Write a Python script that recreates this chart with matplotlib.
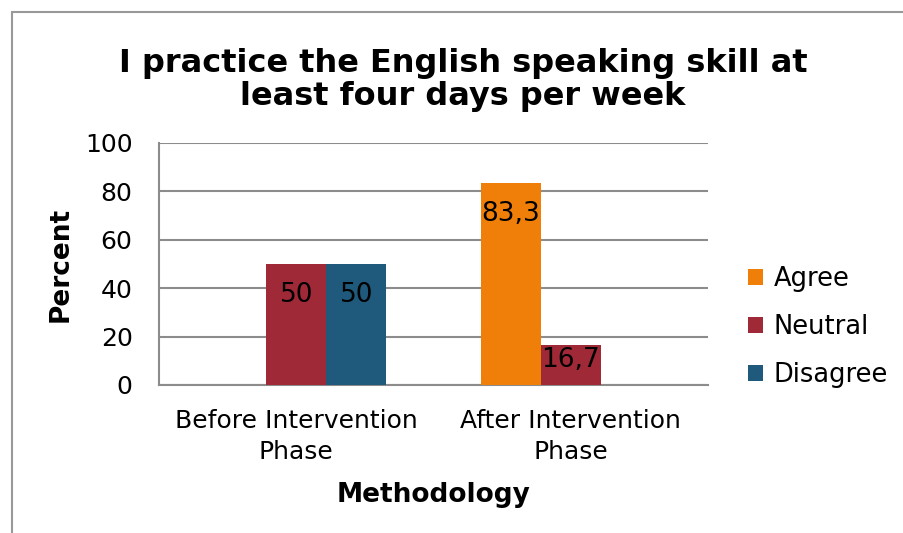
import matplotlib
matplotlib.use("Agg")
import matplotlib.pyplot as plt
from matplotlib.patches import Rectangle
import numpy as np

# data
phases = ["Before Intervention\nPhase", "After Intervention\nPhase"]
series = ["Agree", "Neutral", "Disagree"]
agree = [0, 83.3]
neutral = [50, 16.7]
disagree = [50, 0]
colors = ["#F07F09", "#9F2936", "#1F5A7D"]

plt.rcParams["font.family"] = ["DejaVu Sans"]

fig = plt.figure(figsize=(9.04, 5.33), dpi=100)
# grey chart frame, top-left corner visible
fig.patches.append(Rectangle((12 / 904, -0.1), 1.2, 1 - 12 / 533 + 0.1,
                             transform=fig.transFigure, fill=False,
                             edgecolor="#999999", linewidth=1.5))

ax = fig.add_axes([159 / 904, 1 - 385 / 533, (708 - 159) / 904, (385 - 143) / 533])

x = np.arange(len(phases))
w = 0.219
for i, (name, vals) in enumerate(zip(series, [agree, neutral, disagree])):
    bars = ax.bar(x + (i - 1) * w, vals, w, color=colors[i], label=name, zorder=3)
    for b, v in zip(bars, vals):
        if v > 0:
            # short bars get the label nearer the top
            off = -22 if v > 25 else -11
            ax.annotate(f"{v:g}".replace(".", ","),
                        (b.get_x() + b.get_width() / 2, v),
                        xytext=(0, off), textcoords="offset points",
                        ha="center", va="center", fontsize=19)

ax.set_xlim(-0.5, 1.5)
ax.set_ylim(0, 100)
ax.set_yticks(range(0, 101, 20))
ax.set_xticks(x)
ax.set_xticklabels(phases, fontsize=18, linespacing=1.4)
ax.tick_params(axis="y", labelsize=18, length=0, pad=19)
ax.tick_params(axis="x", length=0, pad=17)
ax.grid(axis="y", color="#8c8c8c", linewidth=1.5, zorder=0)
for s in ["top", "right"]:
    ax.spines[s].set_visible(False)
for s in ["left", "bottom"]:
    ax.spines[s].set_color("#8c8c8c")
    ax.spines[s].set_linewidth(1.5)

ax.set_ylabel("Percent", fontsize=19, fontweight="bold", labelpad=8)
ax.set_xlabel("Methodology", fontsize=19, fontweight="bold", labelpad=13)

fig.text(0.512, 1 - 80 / 533, "I practice the English speaking skill at\nleast four days per week",
         ha="center", va="center", fontsize=23, fontweight="bold", linespacing=1.1)

ax.legend(loc="center left", bbox_to_anchor=(748 / 904, 1 - 327 / 533),
          bbox_transform=fig.transFigure, frameon=False,
          fontsize=18.5, handlelength=0.6, handleheight=0.6, handletextpad=0.4,
          labelspacing=0.85, borderaxespad=0, borderpad=0)

fig.savefig("out.png", dpi=100)
